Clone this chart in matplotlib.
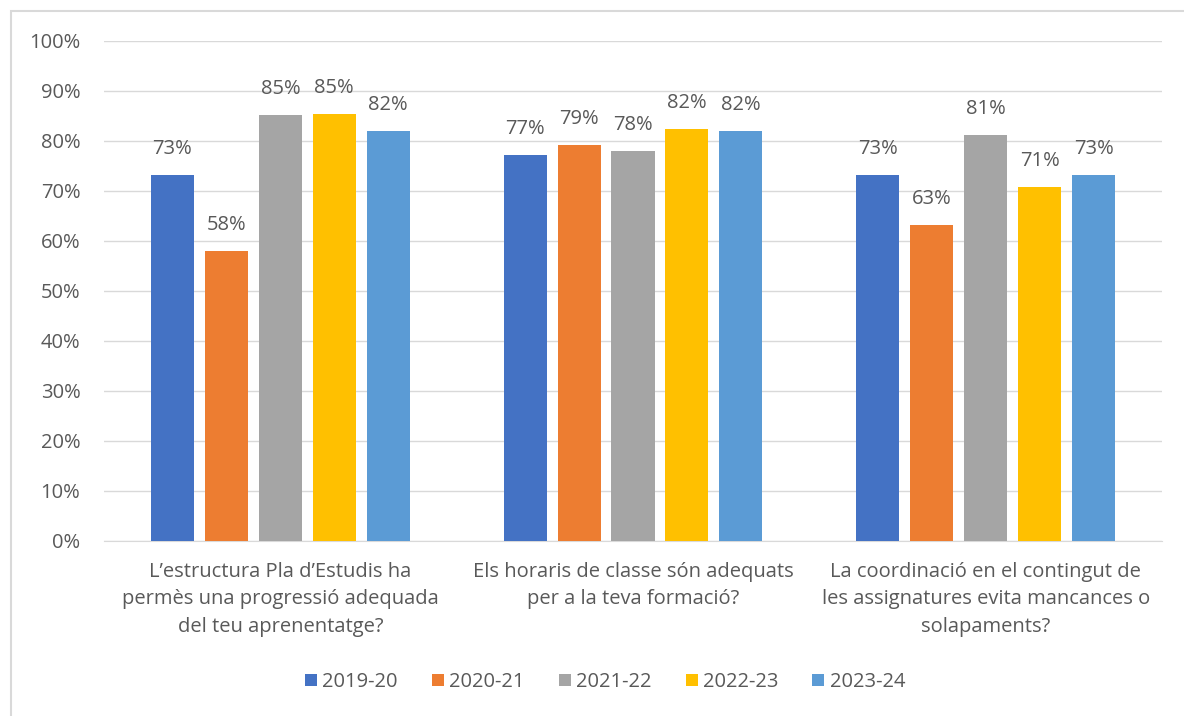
import numpy as np
import matplotlib.pyplot as plt
from matplotlib.patches import Rectangle

plt.rcParams['font.family'] = ['Open Sans', 'DejaVu Sans']

# data
categories = ["L\u2019estructura Pla d\u2019Estudis ha\npermès una progressió adequada\ndel teu aprenentatge?",
              "Els horaris de classe són adequats\nper a la teva formació?",
              "La coordinació en el contingut de\nles assignatures evita mancances o\nsolapaments?"]
years = ["2019-20", "2020-21", "2021-22", "2022-23", "2023-24"]
v2019 = [73.2, 77.2, 73.2]
v2020 = [58.0, 79.2, 63.2]
v2021 = [85.2, 78.0, 81.2]
v2022 = [85.45, 82.4, 70.8]
v2023 = [82.0, 82.0, 73.2]
colors = ['#4472C4', '#ED7D31', '#A5A5A5', '#FFC000', '#5B9BD5']

series = [v2019, v2020, v2021, v2022, v2023]
txt = '#595959'
fs = 14.5

fig = plt.figure(figsize=(11.84, 7.16), dpi=100)
fig.patches.append(Rectangle((11/1184, -0.05), 1.1, 1 - 11/716 + 0.05, transform=fig.transFigure,
                             fill=False, edgecolor='#d9d9d9', linewidth=1.5))
ax = fig.add_axes([104/1184, 1 - 541/716, 1058/1184, 500/716])

x = np.arange(len(categories))
w = 0.122
step = 0.153
for i, (vals, c, lab) in enumerate(zip(series, colors, years)):
    pos = x + (i - 2) * step
    bars = ax.bar(pos, vals, width=w, color=c, label=lab, zorder=3)
    for xp, v in zip(pos, vals):
        ax.text(xp, v + 3.2, '%.0f%%' % v, ha='center', va='bottom', fontsize=fs, color=txt)

ax.set_xlim(-0.5, 2.5)
ax.set_ylim(0, 100)
ax.set_yticks(np.arange(0, 101, 10))
ax.set_yticklabels(['%d%%' % t for t in range(0, 101, 10)], fontsize=fs, color=txt)
ax.set_xticks(x)
ax.set_xticklabels(categories, fontsize=fs, color=txt, linespacing=1.5)
ax.tick_params(axis='y', length=0, pad=17)
ax.tick_params(axis='x', length=0, pad=15)
ax.grid(axis='y', color='#d9d9d9', linewidth=1, zorder=0)
for s in ['top', 'right', 'left']:
    ax.spines[s].set_visible(False)
ax.spines['bottom'].set_color('#d9d9d9')

leg = ax.legend(loc='center', bbox_to_anchor=(605/1184, 1 - 682/716), bbox_transform=fig.transFigure,
                ncol=5, frameon=False, fontsize=fs, handlelength=0.6, handleheight=0.6,
                handletextpad=0.25, columnspacing=1.7)
for t in leg.get_texts():
    t.set_color(txt)

fig.savefig('out.png', dpi=100)
